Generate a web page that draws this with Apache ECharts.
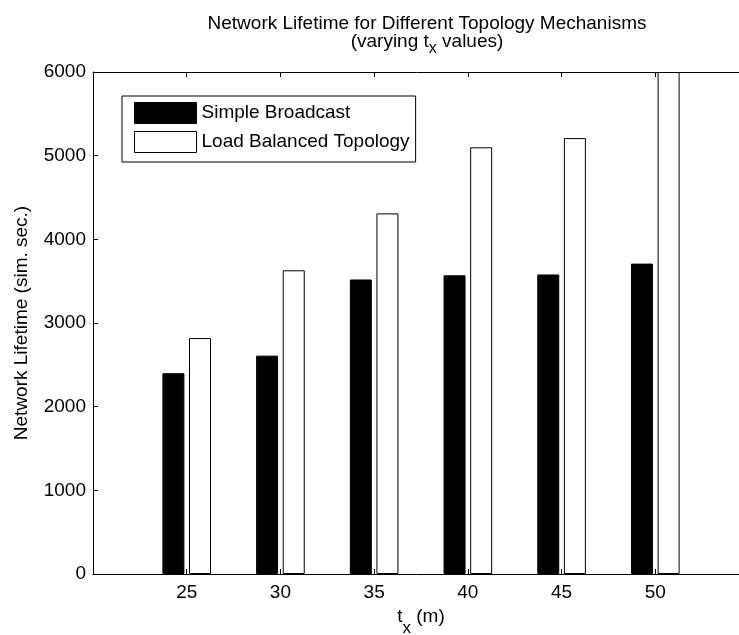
<!DOCTYPE html>
<html><head><meta charset="utf-8">
<script src="https://cdn.jsdelivr.net/npm/echarts@6/dist/echarts.min.js"></script>
<style>html,body{margin:0;padding:0;background:#fff}#c{width:739px;height:635px}</style>
</head><body><div id="c"></div>
<script>
const txValues = [25, 30, 35, 40, 45, 50];
const simpleBroadcast = [2400, 2610, 3520, 3570, 3580, 3710];
const loadBalanced = [2820, 3630, 4310, 5100, 5210, 6000];
const yTicks = [0, 1000, 2000, 3000, 4000, 5000, 6000];
const seriesNames = ['Simple Broadcast', 'Load Balanced Topology'];

const FONT = 'Liberation Sans, Arial, Helvetica, sans-serif';
const FS = 19;
const chart = echarts.init(document.getElementById('c'), null, {renderer: 'canvas'});
const axisCommon = {
  type: 'value', min: 20, max: 55, interval: 5,
  axisLine: {show: true, lineStyle: {color: '#000', width: 1}},
  axisTick: {show: true, inside: true, length: 5, lineStyle: {color: '#000'}},
  splitLine: {show: false}
};
chart.setOption({
  animation: false,
  backgroundColor: '#fff',
  title: {
    text: '{a|Network Lifetime for Different Topology Mechanisms}\n{a|(varying t}{s|x}{a| values)}',
    left: 422, top: 10, textAlign: 'center',
    textStyle: {
      rich: {
        a: {fontFamily: FONT, fontSize: FS, fontWeight: 'normal', color: '#000', lineHeight: 18},
        s: {fontFamily: FONT, fontSize: 16, fontWeight: 'normal', color: '#000', padding: [14, 0, 0, 0], lineHeight: 18}
      }
    }
  },
  legend: {
    orient: 'vertical', left: 122, top: 96,
    padding: [6, 6, 9, 12], itemGap: 7, itemWidth: 62, itemHeight: 21,
    borderColor: '#000', borderWidth: 1, backgroundColor: '#fff',
    textStyle: {fontFamily: FONT, fontSize: FS, color: '#000'},
    data: [
      {name: seriesNames[0], icon: 'rect', itemStyle: {color: '#000', borderColor: '#000', borderWidth: 1}},
      {name: seriesNames[1], icon: 'rect', itemStyle: {color: '#fff', borderColor: '#000', borderWidth: 1}}
    ]
  },
  grid: {left: 93, top: 72, bottom: 61, width: 656, containLabel: false, outerBoundsMode: 'none'},
  xAxis: [
    Object.assign({}, axisCommon, {
      position: 'bottom',
      name: '{t|t}{s|x}{t| (m)}', nameLocation: 'middle', nameGap: 22,
      nameTextStyle: {rich: {
        t: {fontFamily: FONT, fontSize: FS, color: '#000'},
        s: {fontFamily: FONT, fontSize: 17, color: '#000', padding: [24, 0, 0, 0]}
      }},
      axisLabel: {
        fontFamily: FONT, fontSize: FS, color: '#000', margin: 9,
        formatter: v => txValues.indexOf(v) >= 0 ? String(v) : ''
      }
    }),
    Object.assign({}, axisCommon, {
      position: 'top', axisLabel: {show: false}
    })
  ],
  yAxis: {
    type: 'value', min: yTicks[0], max: yTicks[yTicks.length - 1], interval: yTicks[1] - yTicks[0],
    name: 'Network Lifetime (sim. sec.)', nameLocation: 'middle', nameGap: 62,
    nameTextStyle: {fontFamily: FONT, fontSize: FS, color: '#000'},
    axisLine: {show: true, lineStyle: {color: '#000'}},
    axisTick: {show: true, inside: true, length: 5, lineStyle: {color: '#000'}},
    axisLabel: {fontFamily: FONT, fontSize: FS, color: '#000', margin: 7, formatter: v => String(v)},
    splitLine: {show: false}
  },
  series: [
    {
      name: seriesNames[0], type: 'bar', xAxisIndex: 0,
      barWidth: 22, barGap: '21%',
      itemStyle: {color: '#000', borderColor: '#000', borderWidth: 1},
      data: txValues.map((x, i) => [x, simpleBroadcast[i]])
    },
    {
      name: seriesNames[1], type: 'bar', xAxisIndex: 0,
      barWidth: 22, barGap: '21%',
      itemStyle: {color: '#fff', borderColor: '#000', borderWidth: 1},
      data: txValues.map((x, i) => [x, loadBalanced[i]])
    }
  ]
});
</script></body></html>
